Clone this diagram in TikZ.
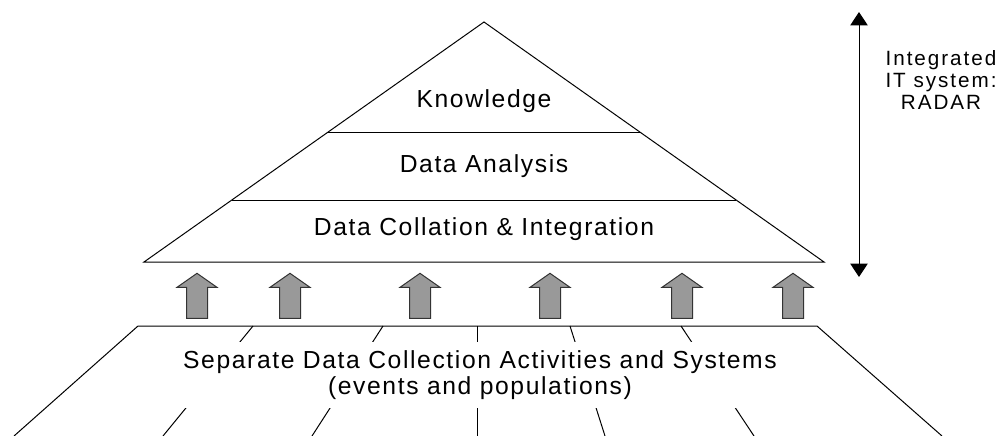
\documentclass[tikz,border=0pt]{standalone}
\usepackage{fontspec}
\setmainfont{Liberation Sans}[LetterSpace=6.5]
\usetikzlibrary{arrows.meta, shapes.arrows, calc}

\begin{document}
\begin{tikzpicture}[
    x=0.75pt, y=-0.75pt,
    layer/.style={font=\fontsize{18.5}{19.5}\selectfont, inner sep=0pt, anchor=base},
    feed/.style={single arrow, draw=black!80, fill=black!40, line width=0.75pt, shape border rotate=90,
        minimum height=33.75pt, minimum width=25.5pt, inner sep=7.5pt, single arrow tip angle=110},
    edge/.style={line width=0.75pt},
    reach/.style={{Triangle[width=13pt,length=10pt]}-{Triangle[width=13pt,length=10pt]}, line width=0.75pt}
]
\useasboundingbox (0,0) rectangle (1001,436);

% Pyramid
\coordinate (apex) at (484,22);
\coordinate (bl) at (144,262);
\coordinate (br) at (824,262);
\draw[edge] (apex) -- (bl) -- (br) -- cycle;
\draw[edge] ($(apex)!0.459!(bl)$) -- ($(apex)!0.459!(br)$);
\draw[edge] ($(apex)!0.742!(bl)$) -- ($(apex)!0.742!(br)$);

\node[layer] (know) at (484,107) {Knowledge};
\node[layer] (anal) at (484,172) {Data Analysis};
\node[layer] (coll) at (484,235) {Data Collation \& Integration};

% Side arrow
\coordinate (top) at (859,12);
\coordinate (bot) at (859,277);
\draw[reach] (top) -- (bot);
\node[font=\fontsize{15.5}{16.2}\selectfont\addfontfeatures{LetterSpace=9.5}, align=center] (radar) at (941,80)
    {Integrated\\IT system:\\RADAR};

% Feeds into the pyramid
\foreach \x [count=\i] in {197,290,420,550,682,793}
    \node[feed] (f\i) at (\x,299.5) {};

% Base
\coordinate (tl) at (138,326);
\coordinate (tr) at (817,326);
\coordinate (ll) at (14,436);
\coordinate (lr) at (942,436);
\draw[edge] (ll) -- (tl) -- (tr) -- (lr);
% dividers
\foreach \a/\b in {253/163, 383/312, 477/477, 570/605, 681/754}
    \draw[edge] (\a,326) -- (\b,436);
\node[fill=white, minimum height=49.5pt, font=\fontsize{18.5}{19.5}\selectfont, align=center] (src) at (480,375)
    {Separate Data Collection Activities and Systems\\(events and populations)};

\end{tikzpicture}
\end{document}
